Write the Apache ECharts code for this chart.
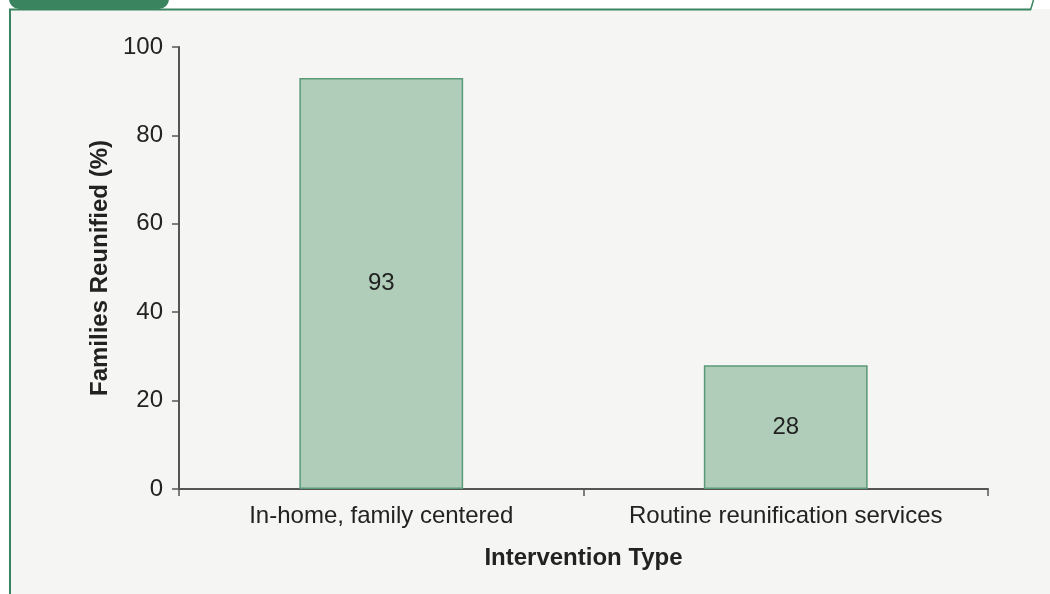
<!DOCTYPE html>
<html>
<head>
<meta charset="utf-8">
<script src="https://cdn.jsdelivr.net/npm/echarts@6/dist/echarts.min.js"></script>
<style>
html,body{margin:0;padding:0;background:#ffffff;}
#chart{width:1050px;height:594px;}
</style>
</head>
<body>
<div id="chart"></div>
<script>
const categories = ["In-home, family centered", "Routine reunification services"];
const values = [93, 28];
const yTicks = [0, 20, 40, 60, 80, 100];
const yAxisTitle = "Families Reunified (%)";
const xAxisTitle = "Intervention Type";

const chart = echarts.init(document.getElementById('chart'), null, {renderer: 'canvas'});
const FONT = '"Liberation Sans", Arial, Helvetica, sans-serif';
const option = {
  animation: false,
  backgroundColor: '#ffffff',
  graphic: [
    {type: 'rect', z: -10, shape: {x: 10, y: 9, width: 1040, height: 585}, style: {fill: '#f5f5f3'}},
    {type: 'rect', z: -5, shape: {x: 9, y: -10, width: 160, height: 19, r: [0, 0, 10, 10]}, style: {fill: '#3a8560'}},
    {type: 'line', z: -4, shape: {x1: 9, y1: 9.5, x2: 1031, y2: 9.5}, style: {stroke: '#3a8560', lineWidth: 2}},
    {type: 'line', z: -4, shape: {x1: 1030.5, y1: 10, x2: 1033.5, y2: 0}, style: {stroke: '#3a8560', lineWidth: 1.5}},
    {type: 'line', z: -4, shape: {x1: 10, y1: 9, x2: 10, y2: 594}, style: {stroke: '#3a8560', lineWidth: 2}}
  ],
  grid: {left: 179, right: 62, top: 47, bottom: 105, containLabel: false},
  xAxis: {
    type: 'category',
    data: categories,
    boundaryGap: true,
    name: xAxisTitle,
    nameLocation: 'middle',
    nameGap: 57,
    nameTextStyle: {fontFamily: FONT, fontSize: 24, fontWeight: 'bold', color: '#222'},
    axisLine: {lineStyle: {color: '#555', width: 2}},
    axisTick: {show: true, interval: 0, length: 7, lineStyle: {color: '#555', width: 1.5}},
    axisLabel: {interval: 0, hideOverlap: false, fontFamily: FONT, fontSize: 24, color: '#222', margin: 15}
  },
  yAxis: {
    type: 'value',
    min: 0,
    max: 100,
    interval: 20,
    name: yAxisTitle,
    nameLocation: 'middle',
    nameGap: 67,
    nameTextStyle: {fontFamily: FONT, fontSize: 24, fontWeight: 'bold', color: '#222'},
    axisLine: {show: true, lineStyle: {color: '#555', width: 2}},
    axisTick: {show: true, length: 7, lineStyle: {color: '#555', width: 1.5}},
    splitLine: {show: false},
    axisLabel: {
      fontFamily: FONT, fontSize: 24, color: '#222', margin: 16,
      formatter: function (v) { return yTicks.indexOf(v) >= 0 ? String(v) : ''; }
    }
  },
  series: [{
    type: 'bar',
    data: values,
    barWidth: '40.5%',
    itemStyle: {color: '#b0cdb9', borderColor: '#5a9a78', borderWidth: 1.5},
    label: {show: true, position: 'inside', fontFamily: FONT, fontSize: 24, color: '#222'}
  }]
};
chart.setOption(option);
</script>
</body>
</html>
